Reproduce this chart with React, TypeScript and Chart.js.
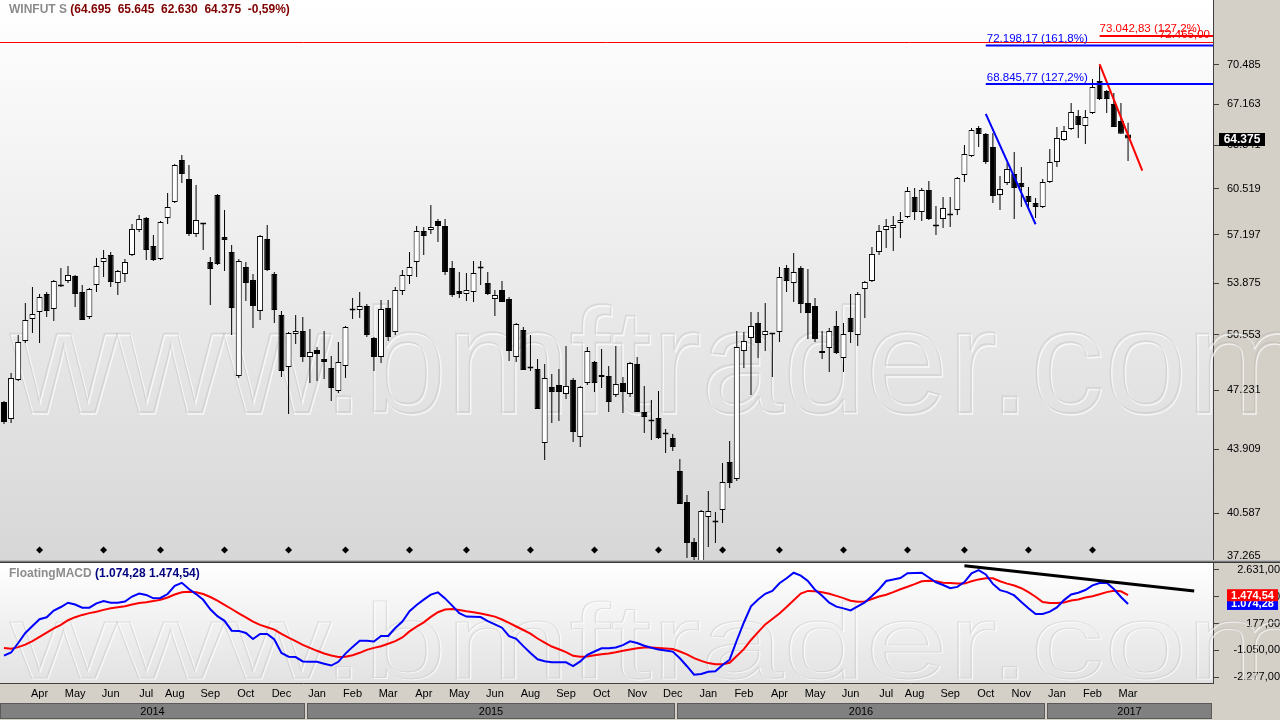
import { useEffect, useRef } from "react";
import { Chart, registerables } from "chart.js";

Chart.register(...registerables);

const FONT = '"Liberation Sans", Arial, sans-serif';

// ---------------- data (weekly bars) ----------------
const ticker = "WINFUT S";
const macdName = "FloatingMACD";
const watermark = "www.bmftrader.com";

const opens = [
  46545, 45575, 47820, 50175, 51550, 52000, 53165, 52190, 53755, 54020,
  54355, 53295, 51680, 53755, 55300, 55780, 53890, 54490, 55780, 57525,
  58380, 56400, 55505, 58380, 59540, 62700, 61255, 57240, 57915, 55300,
  60060, 57030, 55985, 48055, 54960, 54085, 52060, 56890, 54490, 51805,
  48595, 50610, 50795, 49195, 49620, 49075, 48535, 47175, 48655, 52095,
  52125, 52385, 50360, 49195, 52255, 50735, 53360, 54355, 55300, 57455,
  57525, 58165, 57810, 54895, 53360, 53165, 53295, 54895, 53890, 52840,
  53425, 52840, 49195, 50855, 48535, 48475, 44250, 47410, 47530, 47005,
  47820, 44580, 47645, 48890, 48000, 48055, 46945, 47645, 47005, 48770,
  45970, 45465, 45635, 44745, 44525, 42750, 41150, 39170, 38200, 40400,
  40150, 40745, 43225, 42330, 49560, 50360, 51300, 50545, 50610, 50735,
  54895, 53890, 54895, 52580, 52385, 49440, 49745, 51110, 49135, 51615,
  50545, 53490, 54020, 55985, 57525, 57665, 58020, 58450, 59910, 58815,
  60430, 57810, 58310, 58560, 58960, 61555, 63015, 65225, 64745, 63715,
  60060, 60955, 61630, 60955, 59985, 59470, 59175, 61025, 62550, 64265,
  65145, 66195, 65385, 66440, 69110, 68265, 67180, 65790, 64695,
];
const highs = [
  46600, 48235, 50545, 52580, 53625, 53165, 53295, 54085, 54895, 55030,
  54425, 53755, 53560, 55575, 56125, 55985, 54760, 55505, 57950, 58595,
  58450, 57170, 58165, 60205, 62395, 63090, 62320, 60805, 58020, 55640,
  60130, 58960, 56470, 55505, 55300, 54490, 57170, 57880, 54625, 52060,
  50735, 51805, 51680, 50920, 49805, 50795, 49255, 50115, 51110, 52905,
  53295, 52515, 50420, 52770, 52770, 53625, 54760, 55985, 57810, 57740,
  59325, 58310, 58310, 55370, 54625, 54555, 55370, 55370, 54625, 53425,
  54020, 52970, 51300, 51045, 50545, 49075, 48775, 48175, 48475, 49865,
  47940, 47470, 49805, 48950, 49680, 48655, 49865, 48000, 48890, 49195,
  47470, 46655, 47175, 45020, 44745, 43385, 41505, 39365, 40745, 41710,
  40645, 43175, 44360, 50795, 50735, 52000, 52000, 52580, 50670, 54960,
  55095, 55915, 55030, 54825, 52905, 50795, 50985, 52060, 51300, 53165,
  53295, 54020, 56330, 57880, 58310, 58525, 58815, 60655, 60580, 60580,
  61100, 59250, 59910, 59910, 61405, 63875, 65225, 65385, 64825, 64825,
  61480, 62470, 63325, 62165, 60655, 59835, 61255, 63560, 65300, 65385,
  67265, 66685, 66685, 69280, 70400, 68350, 68095, 67265, 65645,
];
const lows = [
  45300, 45355, 47760, 50050, 50670, 50050, 51680, 51425, 53625, 53890,
  52320, 51485, 51550, 53295, 54290, 53625, 53100, 53955, 55710, 57380,
  55435, 55370, 55435, 57950, 59470, 60955, 57100, 57030, 56125, 52450,
  55095, 54690, 50545, 47940, 52705, 50985, 51485, 54690, 51300, 48000,
  45860, 49990, 48890, 47645, 47760, 47880, 46600, 47060, 47940, 51550,
  51615, 50420, 48355, 48830, 50175, 50545, 53100, 53820, 54290, 55780,
  57240, 56680, 54425, 52970, 52905, 52705, 52645, 53755, 53100, 51740,
  52640, 48950, 48890, 48410, 48355, 46140, 43335, 45355, 45465, 46715,
  44305, 44035, 47530, 47120, 47350, 45970, 46830, 45915, 46830, 45970,
  44800, 44415, 44470, 43710, 43815, 41045, 38405, 38075, 37900, 38930,
  39125, 40100, 41865, 42230, 48535, 46945, 49135, 49560, 48000, 50115,
  53295, 52645, 51935, 50295, 50115, 49075, 48295, 49375, 48295, 50050,
  49865, 51615, 53955, 55780, 56260, 56055, 56960, 58380, 58235, 58165,
  58235, 57170, 57665, 57740, 58595, 61025, 62935, 63715, 62395, 59470,
  58960, 60805, 58310, 59175, 58960, 58380, 59105, 60955, 62165, 64185,
  65060, 64425, 63950, 66360, 67510, 66440, 65300, 64755, 62630,
];
const closes = [
  45410, 47940, 50110, 51485, 51870, 52970, 52060, 54020, 53655, 54425,
  53165, 51490, 53490, 55030, 55575, 53955, 54690, 55300, 57595, 58310,
  56125, 55435, 58095, 59175, 62320, 61630, 57240, 58235, 57950, 54825,
  55165, 56820, 52255, 55370, 53890, 52385, 57100, 54760, 52125, 48355,
  50670, 50795, 49195, 49500, 49375, 48890, 47350, 48890, 51045, 52125,
  52385, 50545, 49195, 52190, 50420, 53425, 54425, 54960, 57450, 57100,
  57740, 57810, 54625, 53100, 53165, 53425, 54555, 54860, 53165, 53100,
  52645, 49560, 51235, 48415, 48505, 46145, 47940, 47120, 47120, 47470,
  44855, 47410, 49560, 47645, 48115, 46545, 47585, 47120, 48830, 45975,
  45690, 45435, 44525, 44715, 44035, 41050, 39125, 38455, 40695, 40695,
  40125, 42175, 42125, 49805, 50175, 51110, 50050, 50795, 50580, 54290,
  54020, 54625, 52515, 51935, 50295, 49560, 50795, 49440, 50610, 50735,
  53165, 53955, 55850, 57455, 57810, 57880, 58235, 60355, 58815, 60430,
  58310, 57775, 59105, 58595, 61330, 63170, 65060, 64745, 62550, 59985,
  60505, 62010, 60580, 60655, 59540, 59175, 61025, 62550, 64425, 64980,
  66520, 65465, 66115, 68600, 67595, 67595, 65305, 64760, 64375,
];

const macdLine = [
  -1300, -1153, -718, -259, 62, 374, 461, 773, 934, 1131,
  1048, 902, 902, 1099, 1204, 1131, 1131, 1186, 1415, 1548,
  1489, 1333, 1347, 1530, 1906, 2044, 1759, 1526, 1264, 828,
  512, 301, -153, -162, -259, -534, -305, -305, -557, -1172,
  -1346, -1364, -1562, -1575, -1580, -1667, -1750, -1580, -1204, -896,
  -617, -612, -649, -396, -396, -29, 269, 737, 1026, 1273,
  1503, 1604, 1328, 998, 649, 493, 489, 471, 282, 140,
  -16, -401, -529, -860, -1176, -1465, -1557, -1603, -1603, -1603,
  -1773, -1562, -1259, -1107, -961, -961, -919, -814, -640, -718,
  -846, -938, -1020, -1066, -1112, -1415, -1782, -2172, -2135, -2034,
  -2016, -1722, -1484, -603, 223, 966, 1282, 1539, 1668, 2021,
  2250, 2507, 2374, 2126, 1723, 1448, 1131, 952, 870, 778,
  966, 1145, 1438, 1750, 2126, 2195, 2264, 2480, 2493, 2507,
  2287, 2067, 1943, 1796, 1856, 2076, 2475, 2622, 2425, 1993,
  1709, 1617, 1466, 1159, 879, 613, 613, 723, 915, 1250,
  1507, 1590, 1714, 1929, 2030, 2044, 1759, 1393, 1074.28,
];
const signalLine = [
  -947, -984, -906, -791, -635, -438, -245, -48, 113, 328,
  466, 571, 654, 718, 801, 879, 925, 971, 1048, 1117,
  1154, 1204, 1264, 1370, 1507, 1613, 1636, 1608, 1530, 1393,
  1223, 1035, 842, 645, 457, 264, 113, 7, -103, -300,
  -474, -635, -800, -938, -1075, -1199, -1291, -1355, -1346, -1277,
  -1167, -1034, -942, -864, -754, -630, -465, -185, 30, 227,
  480, 695, 815, 842, 796, 737, 691, 631, 571, 493,
  360, 204, 39, -121, -286, -511, -699, -878, -1006, -1135,
  -1305, -1346, -1332, -1277, -1231, -1195, -1139, -1075, -1016, -961,
  -929, -929, -947, -970, -993, -1107, -1236, -1410, -1539, -1639,
  -1695, -1695, -1626, -1314, -997, -580, -218, 136, 383, 636,
  934, 1246, 1553, 1672, 1659, 1613, 1539, 1443, 1342, 1223,
  1177, 1191, 1301, 1415, 1493, 1617, 1750, 1860, 1980, 2113,
  2140, 2113, 2048, 2030, 2007, 2007, 2113, 2200, 2250, 2250,
  2113, 2007, 1920, 1796, 1613, 1406, 1163, 1122, 1113, 1140,
  1232, 1278, 1370, 1429, 1516, 1617, 1677, 1654, 1474.54,
];

// axis ticks
const priceTicks = [70485, 67163, 63841, 60519, 57197, 53875, 50553, 47231, 43909, 40587];
const priceBottomTick = 37265;
const macdTicks = [2631, 1404, 177, -1050, -2277];

const monthTickBars = [5, 10, 15, 20, 24, 29, 34, 39, 44, 49, 54, 59, 64, 69, 74, 79, 84, 89, 94, 99, 104, 109, 114, 119, 124, 128, 133, 138, 143, 148, 153, 158];
const monthTickLabels = ["Apr", "May", "Jun", "Jul", "Aug", "Sep", "Oct", "Dec", "Jan", "Feb", "Mar", "Apr", "May", "Jun", "Aug", "Sep", "Oct", "Nov", "Dec", "Jan", "Feb", "Apr", "May", "Jun", "Jul", "Aug", "Sep", "Oct", "Nov", "Jan", "Feb", "Mar"];
const yearLabels = ["2014", "2015", "2016", "2017"];
const yearStartBar = [43, 95, 147];

// cycle markers
const cycleMarkBars = [5, 14, 22, 31, 40, 48, 57, 65, 74, 83, 92, 101, 109, 118, 127, 135, 144, 153];
const cycleMarkLevel = 38790;

// drawing tools
const fibBlueLevels = [72198.17, 68845.77];
const fibBlueTags = ["161,8%", "127,2%"];
const fibBlueFrom = 138;
const fibRedLevels = [73042.83];
const fibRedTags = ["127,2%"];
const fibRedFrom = 154;
const refRedLevel = 72465;
const trendBlueX = [138, 145];
const trendBlueY = [66360, 57930];
const trendRedX = [154, 160];
const trendRedY = [70570, 61880];
const macdTrendX = [135, 167.3];
const macdTrendY = [2830, 1668];

// view ranges
const X_MIN = -0.56;
const X_MAX = 169.94;
const PRICE_MIN = 38312;
const PRICE_MAX = 76359;
const MACD_MIN = -2552;
const MACD_MAX = 2952;

// ---------------- helpers ----------------
function group(s: string) {
  return s.replace(/\B(?=(\d{3})+(?!\d))/g, ".");
}
function fmtPts(v: number) {
  const r = Math.round(v);
  return (r < 0 ? "-" : "") + group(String(Math.abs(r)));
}
function fmtBR(v: number) {
  const neg = v < 0;
  const cents = Math.round(Math.abs(v) * 100);
  const ip = Math.floor(cents / 100);
  const dp = cents % 100;
  return (neg ? "-" : "") + group(String(ip)) + "," + String(dp).padStart(2, "0");
}

function drawWatermark(ctx: CanvasRenderingContext2D, baseline: number, sy: number) {
  ctx.save();
  ctx.font = `148px ${FONT}`;
  ctx.textBaseline = "alphabetic";
  ctx.textAlign = "left";
  ctx.translate(0, baseline);
  ctx.scale(1, sy);
  ctx.lineWidth = 1.3;
  ctx.strokeStyle = "rgba(255,255,255,0.7)";
  ctx.strokeText(watermark, 11.5, 1.5);
  ctx.strokeStyle = "rgba(150,150,150,0.22)";
  ctx.strokeText(watermark, 10, 0);
  ctx.restore();
}

const last = closes.length - 1;

// ---------------- plugins ----------------
const pricePanel = {
  id: "pricePanel",
  beforeDraw(chart: any) {
    const { ctx, chartArea: a, width, height } = chart;
    ctx.save();
    ctx.fillStyle = "#d4d0c8";
    ctx.fillRect(0, 0, width, height);
    const g = ctx.createLinearGradient(0, a.top, 0, a.bottom);
    g.addColorStop(0, "#ffffff");
    g.addColorStop(1, "#d7d7d7");
    ctx.fillStyle = g;
    ctx.fillRect(a.left, a.top, a.right - a.left, a.bottom - a.top);
    ctx.restore();
  },
  beforeDatasetsDraw(chart: any) {
    drawWatermark(chart.ctx, 412, 1);
  },
  afterDraw(chart: any) {
    const { ctx, chartArea: a } = chart;
    const xs = chart.scales.x;
    const ys = chart.scales.y;
    ctx.save();
    // title
    ctx.font = `bold 12px ${FONT}`;
    ctx.textBaseline = "middle";
    ctx.textAlign = "left";
    ctx.fillStyle = "#8c8c8c";
    ctx.fillText(ticker, 9, 10);
    const tw = ctx.measureText(ticker + " ").width;
    const pct = ((closes[last] - closes[last - 1]) / closes[last - 1]) * 100;
    const vals = `(${fmtPts(opens[last])}  ${fmtPts(highs[last])}  ${fmtPts(lows[last])}  ${fmtPts(closes[last])}  ${pct.toFixed(2).replace(".", ",")}%)`;
    ctx.fillStyle = "#800000";
    ctx.fillText(vals, 9 + tw, 10);

    // fib labels
    ctx.font = `11.5px ${FONT}`;
    ctx.textBaseline = "bottom";
    ctx.fillStyle = "#0000ff";
    fibBlueLevels.forEach((lv, k) => {
      ctx.fillText(`${fmtBR(lv)} (${fibBlueTags[k]})`, xs.getPixelForValue(fibBlueFrom) + 1, ys.getPixelForValue(lv) - 1);
    });
    ctx.fillStyle = "#ff0000";
    fibRedLevels.forEach((lv, k) => {
      ctx.fillText(`${fmtBR(lv)} (${fibRedTags[k]})`, xs.getPixelForValue(fibRedFrom), ys.getPixelForValue(lv) - 1);
    });
    ctx.textAlign = "right";
    ctx.fillText(fmtBR(refRedLevel), a.right - 3, ys.getPixelForValue(refRedLevel) - 2);

    // clamped bottom tick label
    ctx.font = `11px ${FONT}`;
    ctx.textAlign = "left";
    ctx.textBaseline = "middle";
    ctx.fillStyle = "#000000";
    ctx.fillText(fmtPts(priceBottomTick), a.right + 14, a.bottom - 4);

    // last price box
    const ly = Math.round(ys.getPixelForValue(closes[last]));
    ctx.fillStyle = "#000000";
    ctx.fillRect(a.right + 6, ly - 6, 46, 13);
    ctx.fillStyle = "#ffffff";
    ctx.font = `bold 12px ${FONT}`;
    ctx.textAlign = "center";
    ctx.fillText(fmtPts(closes[last]), a.right + 29, ly + 1);
    ctx.restore();
  },
};

const macdPanel = {
  id: "macdPanel",
  beforeDraw(chart: any) {
    const { ctx, chartArea: a, width, height } = chart;
    ctx.save();
    ctx.fillStyle = "#d4d0c8";
    ctx.fillRect(0, 0, width, height);
    const g = ctx.createLinearGradient(0, a.top, 0, a.bottom);
    g.addColorStop(0, "#ffffff");
    g.addColorStop(1, "#e2e2e2");
    ctx.fillStyle = g;
    ctx.fillRect(a.left, a.top, a.right - a.left, a.bottom - a.top);
    ctx.restore();
  },
  beforeDatasetsDraw(chart: any) {
    const { ctx, chartArea: a } = chart;
    ctx.save();
    ctx.beginPath();
    ctx.rect(0, a.top, chart.width, a.bottom - a.top);
    ctx.clip();
    drawWatermark(ctx, 115, 0.72);
    ctx.restore();
  },
  afterDraw(chart: any) {
    const { ctx, chartArea: a } = chart;
    const xs = chart.scales.x;
    const ys = chart.scales.y;
    ctx.save();
    // title
    ctx.font = `bold 12px ${FONT}`;
    ctx.textBaseline = "middle";
    ctx.textAlign = "left";
    ctx.fillStyle = "#8c8c8c";
    ctx.fillText(macdName, 9, 11);
    const tw = ctx.measureText(macdName + " ").width;
    ctx.fillStyle = "#000080";
    ctx.fillText(`(${fmtBR(macdLine[last])} ${fmtBR(signalLine[last])})`, 9 + tw, 11);

    // value boxes
    ctx.font = `bold 11px ${FONT}`;
    ctx.textAlign = "center";
    const by = ys.getPixelForValue(macdLine[last]);
    ctx.fillStyle = "#0000ff";
    ctx.fillRect(a.right + 14, by - 6, 51, 12);
    ctx.fillStyle = "#ffffff";
    ctx.fillText(fmtBR(macdLine[last]), a.right + 39.5, by + 0.5);
    const ry = ys.getPixelForValue(signalLine[last]);
    ctx.fillStyle = "#ff0000";
    ctx.fillRect(a.right + 14, ry - 6, 51, 12);
    ctx.fillStyle = "#ffffff";
    ctx.fillText(fmtBR(signalLine[last]), a.right + 39.5, ry + 0.5);

    // year bands
    const bounds = [X_MIN, ...yearStartBar.map((b) => b - 0.5), X_MAX];
    const top = a.bottom + 20;
    const h = 16;
    ctx.font = `11px ${FONT}`;
    ctx.textBaseline = "middle";
    for (let k = 0; k < yearLabels.length; k++) {
      const x0 = Math.round(xs.getPixelForValue(bounds[k])) + (k === 0 ? 0 : 1);
      const x1 = Math.round(xs.getPixelForValue(bounds[k + 1])) - 1;
      ctx.fillStyle = "#5a5a5a";
      ctx.fillRect(x0, top, x1 - x0, h);
      ctx.fillStyle = "#808080";
      ctx.fillRect(x0 + 1, top + 1, x1 - x0 - 2, h - 2);
      ctx.fillStyle = "#000000";
      ctx.fillText(yearLabels[k], (x0 + x1) / 2, top + h / 2 + 0.5);
    }
    ctx.restore();
  },
};

// ---------------- configs ----------------
function priceConfig(): any {
  const idx = closes.map((_, i) => i);
  const bodyColors = idx.map((i) => (closes[i] >= opens[i] ? "#ffffff" : "#000000"));
  const lineDs = (pts: { x: number; y: number }[], color: string, w: number) => ({
    type: "line",
    data: pts,
    borderColor: color,
    borderWidth: w,
    pointRadius: 0,
    tension: 0,
    fill: false,
    order: -1,
  });
  return {
    type: "bar",
    data: {
      datasets: [
        {
          type: "bar",
          data: idx.map((i) => ({ x: i, y: [opens[i], closes[i]] })),
          backgroundColor: bodyColors,
          borderColor: "#000000",
          borderWidth: 1,
          borderSkipped: false,
          barThickness: 6,
          maxBarThickness: 6,
          minBarLength: 2,
          inflateAmount: 0,
          grouped: false,
          order: 0,
        },
        {
          type: "bar",
          data: idx.map((i) => ({ x: i, y: [lows[i], highs[i]] })),
          backgroundColor: "#000000",
          borderWidth: 0,
          barThickness: 1,
          maxBarThickness: 1,
          inflateAmount: 0,
          grouped: false,
          order: 1,
        },
        lineDs([{ x: X_MIN, y: refRedLevel }, { x: X_MAX, y: refRedLevel }], "#ff0000", 1),
        ...fibBlueLevels.map((lv) => lineDs([{ x: fibBlueFrom, y: lv }, { x: X_MAX, y: lv }], "#0000ff", 2)),
        ...fibRedLevels.map((lv) => lineDs([{ x: fibRedFrom, y: lv }, { x: X_MAX, y: lv }], "#ff0000", 2)),
        lineDs(trendBlueX.map((x, k) => ({ x, y: trendBlueY[k] })), "#0000ff", 2),
        lineDs(trendRedX.map((x, k) => ({ x, y: trendRedY[k] })), "#ff0000", 2),
        {
          type: "scatter",
          data: cycleMarkBars.map((x) => ({ x, y: cycleMarkLevel })),
          pointStyle: "rectRot",
          pointRadius: 3.5,
          backgroundColor: "#000000",
          borderColor: "#000000",
          borderWidth: 0,
          order: -2,
        },
      ],
    },
    options: {
      animation: false,
      responsive: false,
      devicePixelRatio: 1,
      events: [],
      layout: { padding: 0, autoPadding: false },
      plugins: { legend: { display: false }, tooltip: { enabled: false } },
      scales: {
        x: {
          type: "linear",
          display: false,
          min: X_MIN,
          max: X_MAX,
          offset: false,
          bounds: "data",
          ticks: { display: false },
          afterFit: (s: any) => {
            s.paddingLeft = 0;
            s.paddingRight = 0;
          },
        },
        y: {
          type: "logarithmic",
          position: "right",
          min: PRICE_MIN,
          max: PRICE_MAX,
          bounds: "data",
          beginAtZero: false,
          afterBuildTicks: (s: any) => {
            s.ticks = priceTicks.map((v) => ({ value: v }));
          },
          afterFit: (s: any) => {
            s.width = 67;
            s.paddingTop = 0;
            s.paddingBottom = 0;
          },
          ticks: {
            callback: (v: any) => fmtPts(Number(v)),
            font: { family: FONT, size: 11 },
            color: "#000000",
            padding: 8,
            autoSkip: false,
            crossAlign: "near",
          },
          grid: { drawOnChartArea: false, drawTicks: true, tickLength: 6, color: "#404040" },
          border: { display: true, color: "#404040", width: 1 },
        },
      },
    },
    plugins: [pricePanel],
  };
}

function macdConfig(): any {
  const mk = (pts: { x: number; y: number }[], color: string, w: number) => ({
    data: pts,
    borderColor: color,
    borderWidth: w,
    pointRadius: 0,
    tension: 0,
    fill: false,
  });
  return {
    type: "line",
    data: {
      datasets: [
        mk(macdTrendX.map((x, k) => ({ x, y: macdTrendY[k] })), "#000000", 3),
        mk(macdLine.map((v, i) => ({ x: i, y: v })), "#0000ff", 2),
        mk(signalLine.map((v, i) => ({ x: i, y: v })), "#ff0000", 2),
      ],
    },
    options: {
      animation: false,
      responsive: false,
      devicePixelRatio: 1,
      events: [],
      layout: { padding: 0, autoPadding: false },
      plugins: { legend: { display: false }, tooltip: { enabled: false } },
      scales: {
        x: {
          type: "linear",
          min: X_MIN,
          max: X_MAX,
          bounds: "data",
          offset: false,
          afterBuildTicks: (s: any) => {
            s.ticks = monthTickBars.map((v) => ({ value: v }));
          },
          afterFit: (s: any) => {
            s.height = 37;
            s.paddingLeft = 0;
            s.paddingRight = 0;
          },
          ticks: {
            callback: (_v: any, i: number) => monthTickLabels[i] ?? "",
            autoSkip: false,
            maxRotation: 0,
            minRotation: 0,
            font: { family: FONT, size: 11 },
            color: "#000000",
            padding: 4,
          },
          grid: { display: false, drawTicks: false },
          border: { display: true, color: "#404040", width: 1 },
        },
        y: {
          type: "linear",
          position: "right",
          min: MACD_MIN,
          max: MACD_MAX,
          bounds: "data",
          afterBuildTicks: (s: any) => {
            s.ticks = macdTicks.map((v) => ({ value: v }));
          },
          afterFit: (s: any) => {
            s.width = 67;
            s.paddingTop = 0;
            s.paddingBottom = 0;
          },
          ticks: {
            callback: (v: any) => fmtBR(Number(v)),
            font: { family: FONT, size: 11 },
            color: "#000000",
            padding: 5,
            autoSkip: false,
            crossAlign: "far",
          },
          grid: { drawOnChartArea: false, drawTicks: true, tickLength: 6, color: "#404040" },
          border: { display: true, color: "#404040", width: 1 },
        },
      },
    },
    plugins: [macdPanel],
  };
}

export default function App() {
  const priceRef = useRef<HTMLCanvasElement>(null);
  const macdRef = useRef<HTMLCanvasElement>(null);
  useEffect(() => {
    const c1 = new Chart(priceRef.current as HTMLCanvasElement, priceConfig());
    const c2 = new Chart(macdRef.current as HTMLCanvasElement, macdConfig());
    return () => {
      c1.destroy();
      c2.destroy();
    };
  }, []);
  return (
    <div
      style={{
        position: "fixed",
        left: 0,
        top: 0,
        width: 1280,
        height: 720,
        background: "#d4d0c8",
        overflow: "hidden",
      }}
    >
      <canvas
        ref={priceRef}
        width={1280}
        height={560}
        style={{ position: "absolute", left: 0, top: 0, width: 1280, height: 560 }}
      />
      <div
        style={{
          position: "absolute",
          left: 0,
          top: 560,
          width: 1280,
          height: 3,
          background: "#7a7a7a",
          borderTop: "1px solid #b8b8b8",
          borderBottom: "1px solid #3a3a3a",
          boxSizing: "border-box",
        }}
      />
      <canvas
        ref={macdRef}
        width={1280}
        height={157}
        style={{ position: "absolute", left: 0, top: 563, width: 1280, height: 157 }}
      />
    </div>
  );
}
